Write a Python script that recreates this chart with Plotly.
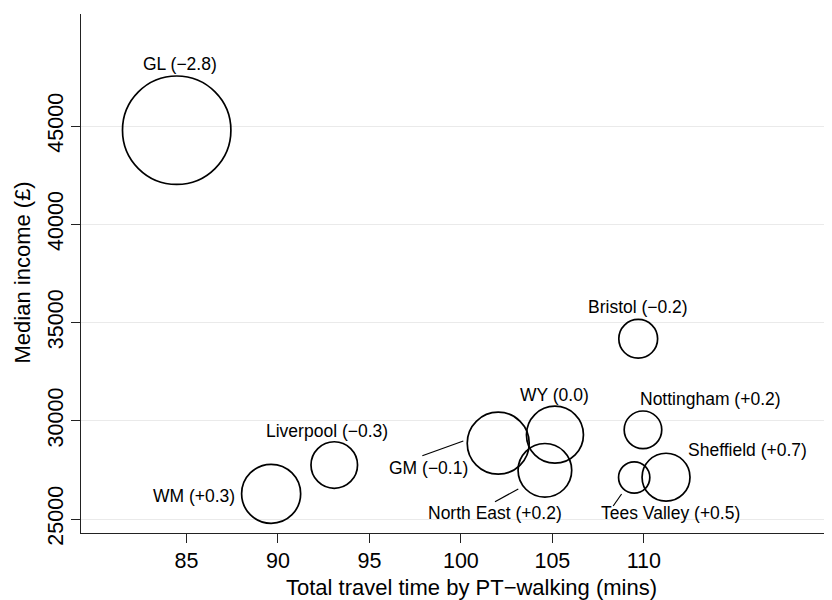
import plotly.graph_objects as go

# ---- data ----
regions = ["GL", "WM", "Liverpool", "GM", "WY", "North East",
           "Bristol", "Nottingham", "Tees Valley", "Sheffield"]
travel_time = [84.47, 89.63, 93.08, 102.04, 105.14, 104.59,
               109.69, 109.95, 109.47, 111.21]
median_income = [44786, 26283, 27748, 28858, 29290, 27479,
                 34171, 29540, 27112, 27127]
population = [8.9, 2.64, 1.64, 2.91, 2.46, 2.18, 1.14, 1.07, 0.74, 1.74]
change = [-2.8, 0.3, -0.3, -0.1, 0.0, 0.2, -0.2, 0.2, 0.5, 0.7]

x_ticks = [85, 90, 95, 100, 105, 110]
y_ticks = [25000, 30000, 35000, 40000, 45000]

# ---- styling / layout constants ----
# the page body has an 8px margin, so the figure is drawn 8px smaller
OFF = 8
W, H = 832 - OFF, 600 - OFF
ML, MR, MT, MB = 81 - OFF, 0, 14 - OFF, 600 - 533
FONT = "Liberation Sans, Arial, Helvetica, sans-serif"
LABEL_SIZE = 17.5

# label placement: (xanchor, dx px, dy px [down positive])
label_pos = {
    "GL": ("center", 3.3, -66.7),
    "WM": ("right", -33.9, 1.7),
    "Liverpool": ("center", -7.3, -34.5),
    "GM": ("right", -28.2, 24.8),
    "WY": ("center", -0.5, -39.7),
    "North East": ("right", 19.6, 42.5),
    "Bristol": ("center", 0.0, -32.3),
    "Nottingham": ("left", -4.6, -30.5),
    "Sheffield": ("left", 19.7, -27.2),
    "Tees Valley": ("left", -34.7, 35.3),
}
# leader lines: ((dx0, dy0), (dx1, dy1)) px relative to bubble centre
leaders = {
    "GM": ((-34.9, -2.2), (-75.9, 12.5)),
    "North East": ((-26.6, 18.7), (-49.9, 31.4)),
    "Tees Valley": ((-12.6, 16.5), (-21.0, 28.5)),
}


def fmt_change(v):
    if v > 0:
        return f"(+{v:.1f})"
    if v < 0:
        return f"(\u2212{abs(v):.1f})"
    return "(0.0)"


fig = go.Figure()
fig.add_trace(go.Scatter(
    x=travel_time, y=median_income, mode="markers",
    marker=dict(size=population, sizemode="area", sizeref=1.5148e-3,
                color="rgba(0,0,0,0)", opacity=1,
                line=dict(color="black", width=1.7)),
    hoverinfo="skip", showlegend=False, cliponaxis=False,
))

annotations = []
shapes = []
for name, xv, yv, ch in zip(regions, travel_time, median_income, change):
    anchor, dx, dy = label_pos[name]
    annotations.append(dict(
        x=xv, y=yv, xref="x", yref="y", text=f"{name} {fmt_change(ch)}",
        showarrow=False, xanchor=anchor, yanchor="middle",
        xshift=dx, yshift=-dy,
        font=dict(family=FONT, size=LABEL_SIZE, color="black"),
    ))
    if name in leaders:
        (a0, b0), (a1, b1) = leaders[name]
        shapes.append(dict(
            type="line", xref="x", yref="y",
            xsizemode="pixel", ysizemode="pixel",
            xanchor=xv, yanchor=yv,
            x0=a0, x1=a1, y0=-b0, y1=-b1,
            line=dict(color="black", width=1.2),
        ))

plot_h = H - MT - MB
plot_w = W - ML - MR
# axis titles as annotations (positions in reference px from page top-left)
annotations.append(dict(
    text="Total travel time by PT\u2212walking (mins)",
    xref="paper", yref="paper",
    x=(471.5 - OFF - ML) / plot_w, y=(H - MB - (587.5 - OFF)) / plot_h,
    xanchor="center", yanchor="middle", showarrow=False,
    font=dict(family=FONT, size=22, color="black"),
))
annotations.append(dict(
    text="Median income (\u00a3)",
    xref="paper", yref="paper",
    x=(22 - OFF - ML) / plot_w, y=(H - MB - (272.5 - OFF)) / plot_h,
    xanchor="center", yanchor="middle", showarrow=False, textangle=-90,
    font=dict(family=FONT, size=22, color="black"),
))

fig.update_layout(
    width=W, height=H,
    margin=dict(l=ML, r=MR, t=MT, b=MB, pad=0),
    paper_bgcolor="white", plot_bgcolor="white",
    font=dict(family=FONT, color="black"),
    annotations=annotations, shapes=shapes,
    showlegend=False,
)
fig.update_xaxes(
    range=[79.24, 120.28], tickvals=x_ticks,
    ticktext=[str(t) for t in x_ticks],
    showgrid=False, zeroline=False,
    showline=True, linecolor="#222", linewidth=1.3,
    ticks="outside", ticklen=8.5, tickwidth=1.3, tickcolor="#222",
    tickfont=dict(family=FONT, size=21.5, color="black"),
)
fig.update_yaxes(
    range=[24288, 50700], tickvals=y_ticks,
    ticktext=[str(t) for t in y_ticks], tickangle=-90,
    showgrid=True, gridcolor="#eaeaea", gridwidth=1.2,
    zeroline=False,
    showline=True, linecolor="#222", linewidth=1.3,
    ticks="outside", ticklen=8.5, tickwidth=1.3, tickcolor="#222",
    tickfont=dict(family=FONT, size=21.5, color="black"),
)

fig.write_html("out.html")
